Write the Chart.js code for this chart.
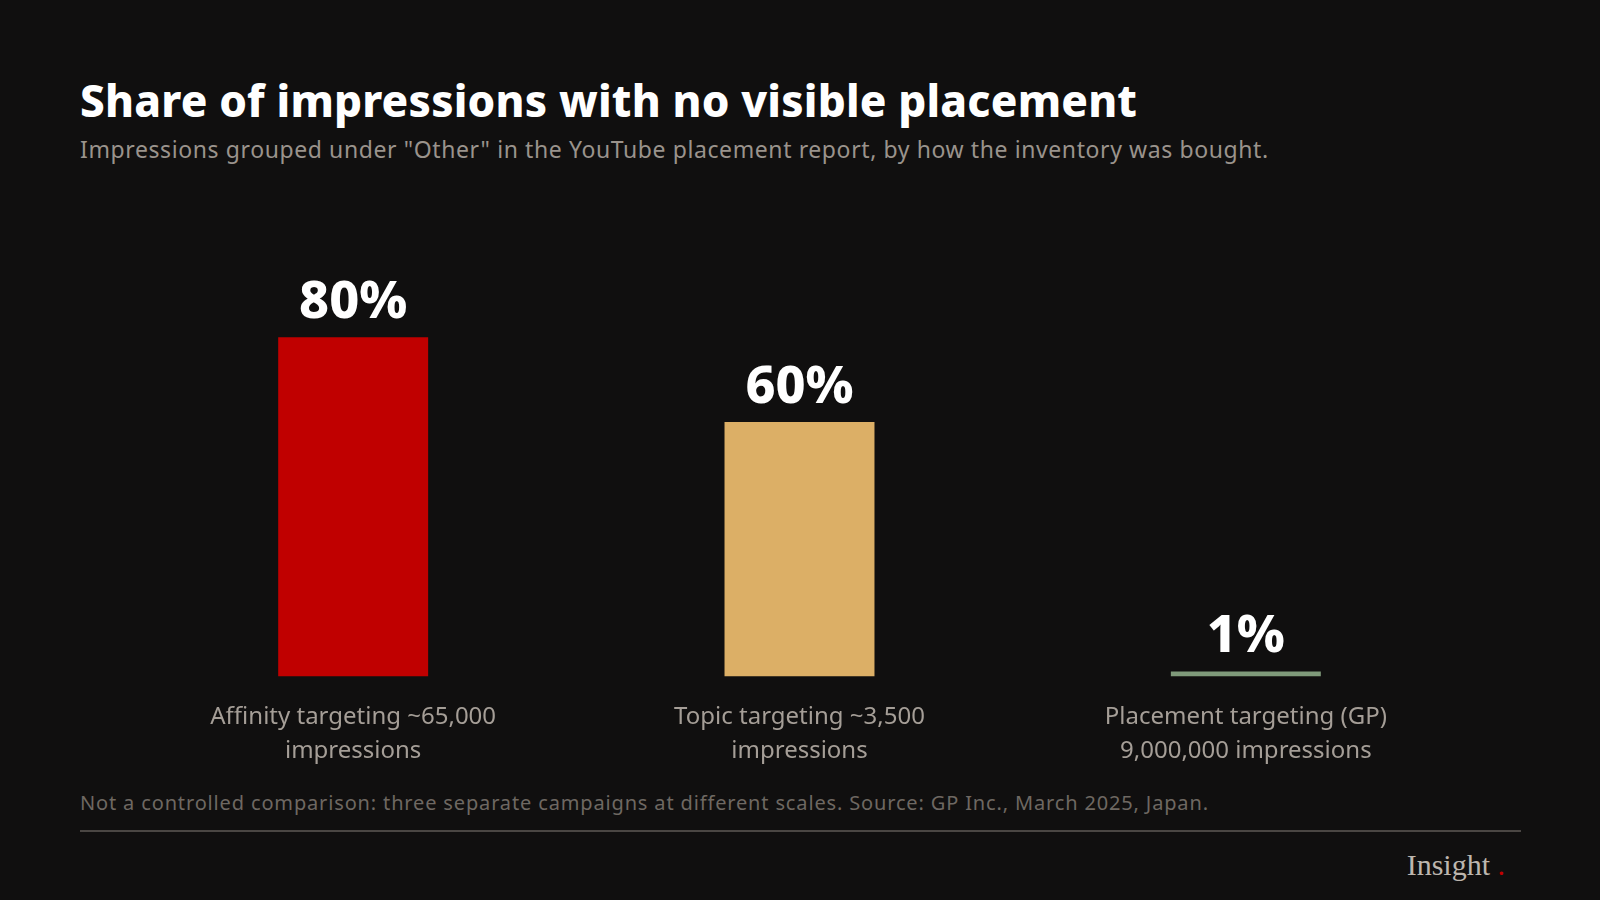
<!DOCTYPE html>
<html><head><meta charset="utf-8">
<script src="https://cdn.jsdelivr.net/npm/chart.js@4"></script>
<style>
html,body{margin:0;padding:0;background:#100f0f;width:1600px;height:900px;overflow:hidden;font-family:"Noto Sans",sans-serif;}
#title{position:absolute;left:80px;top:70px;color:#fff;font-size:44px;font-weight:800;font-family:"Noto Sans",sans-serif;letter-spacing:0.2px;}
#sub{position:absolute;left:80px;top:133px;color:#9a938c;font-size:23px;letter-spacing:0.6px;}
#note{position:absolute;left:80px;top:789px;color:#6e6862;font-size:20px;letter-spacing:0.85px;}
#rule{position:absolute;left:80px;top:830px;width:1441px;height:2px;background:#4a4643;}
#logo{position:absolute;right:95px;top:848px;color:#bdb6ae;font-size:30px;font-family:"Liberation Serif",serif;}
#logo span{color:#c00000;}
#wrap{position:absolute;left:0;top:208px;width:1600px;height:580px;}
</style></head><body>
<div id="title">Share of impressions with no visible placement</div>
<div id="sub">Impressions grouped under "Other" in the YouTube placement report, by how the inventory was bought.</div>
<div id="wrap"><canvas id="c"></canvas></div>
<div id="note">Not a controlled comparison: three separate campaigns at different scales. Source: GP Inc., March 2025, Japan.</div>
<div id="rule"></div>
<div id="logo">Insight <span>.</span></div>
<script>
const categories=[["Affinity targeting ~65,000","impressions"],["Topic targeting ~3,500","impressions"],["Placement targeting (GP)","9,000,000 impressions"]];
const values=[80,60,1];
const valueLabels=["80%","60%","1%"];
const colors=["#c00000","#dcaf66","#7f9a7a"];
const labelPlugin={id:'vl',afterDatasetsDraw(ch){const ctx=ch.ctx;const m=ch.getDatasetMeta(0);ctx.save();ctx.fillStyle='#fff';ctx.font='800 52px "Noto Sans"';ctx.textAlign='center';ctx.textBaseline='bottom';m.data.forEach((b,i)=>ctx.fillText(valueLabels[i],b.x,b.y-8));ctx.restore();}};
new Chart(document.getElementById('c'),{type:'bar',
data:{labels:categories,datasets:[{data:values,backgroundColor:colors,barPercentage:0.336,categoryPercentage:1,minBarLength:5}]},
options:{responsive:true,maintainAspectRatio:false,animation:false,
layout:{padding:{left:130,right:131,top:0,bottom:4}},
plugins:{legend:{display:false},tooltip:{enabled:false}},
scales:{y:{display:false,min:0,max:110.5},
x:{grid:{display:false},border:{display:false},ticks:{color:'#a59e97',font:{size:24,family:'Noto Sans',lineHeight:1.45},padding:15}}}},
plugins:[labelPlugin]});
</script></body></html>
